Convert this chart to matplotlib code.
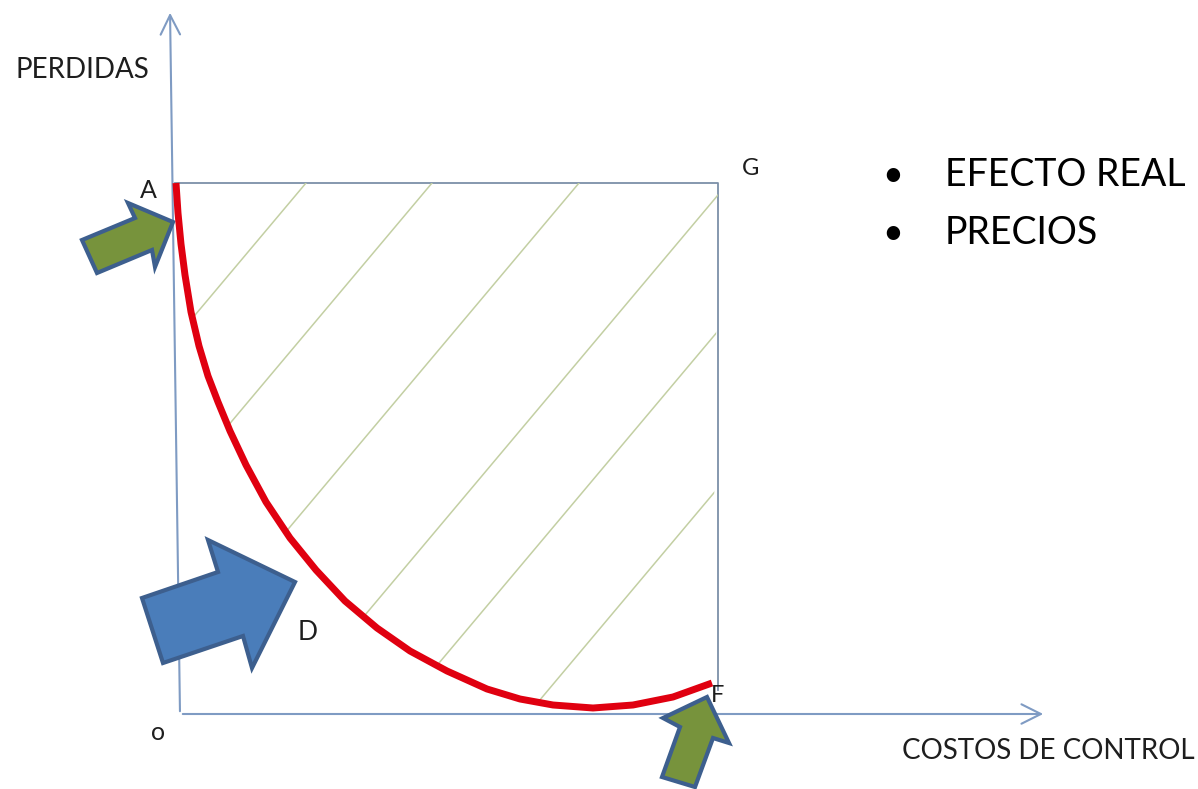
import numpy as np
import matplotlib.pyplot as plt
from matplotlib.patches import Polygon, FancyArrowPatch

# diagram drawn in pixel-like units (x right, y down)
curve_x = [176, 178, 181, 185, 191, 199, 208, 218, 230, 246, 266, 290, 316, 345, 377, 410,
           447, 487, 520, 553, 593, 633, 673, 712]
curve_y = [183, 213, 244, 275, 312, 346, 376, 402, 431, 465, 502, 538, 570, 601, 628, 651,
           671, 689, 699, 705, 708, 705, 697, 683]

box_left, box_top, box_right, box_bottom = 175, 183, 718, 690

hatch_top_x = [306, 432, 579]      # hatch lines that start on the top edge
hatch_right_y = [195, 331, 488]    # hatch lines that start on the right edge
hatch_slope = 1.19

arrow_a = [(82, 240), (135, 218), (128, 203), (173, 222), (155, 267), (152, 250), (97, 273)]
arrow_f = [(707, 697), (729, 743), (713, 738), (695, 787), (662, 777), (680, 727), (663, 718)]
arrow_d = [(142, 598), (218, 572), (208, 540), (295, 582), (252, 668), (243, 636), (163, 663)]

bullets = ['EFECTO REAL', 'PRECIOS']

plt.rcParams['font.family'] = ['Lato', 'DejaVu Sans']

fig = plt.figure(figsize=(11.98, 7.89), dpi=100)
ax = fig.add_axes([0, 0, 1, 1])
ax.set_xlim(0, 1198)
ax.set_ylim(789, 0)
ax.axis('off')

# axes with open arrow heads
axis_col = '#7F9BC3'
ax.add_patch(FancyArrowPatch((180, 714), (170, 10), arrowstyle='->,head_length=7,head_width=3.5',
                             color=axis_col, lw=1.5, mutation_scale=2))
ax.add_patch(FancyArrowPatch((180, 714), (1046, 714), arrowstyle='->,head_length=7,head_width=3.5',
                             color=axis_col, lw=1.5, mutation_scale=2))

# box A-G-F
box_col = '#7C90A8'
ax.plot([box_left, box_right, box_right], [box_top, box_top, box_bottom], color=box_col, lw=1.3)

# hatch region between curve and box
region = Polygon(list(zip(curve_x, curve_y)) + [(box_right, box_top)], closed=True,
                 facecolor='none', edgecolor='none')
ax.add_patch(region)
starts = [(x, box_top) for x in hatch_top_x] + [(box_right, y) for y in hatch_right_y]
for sx, sy in starts:
    ln, = ax.plot([sx, sx - 600], [sy, sy + 600 * hatch_slope], color='#C3CFA3', lw=1.1)
    ln.set_clip_path(region)

# red curve A -> F
ax.plot(curve_x, curve_y, color='#E00010', lw=5, solid_capstyle='butt', solid_joinstyle='round')

# block arrows
edge = '#3D5F8E'
ax.add_patch(Polygon(arrow_a, closed=True, facecolor='#77933C', edgecolor=edge, lw=3, joinstyle='miter'))
ax.add_patch(Polygon(arrow_f, closed=True, facecolor='#77933C', edgecolor=edge, lw=3, joinstyle='miter'))
ax.add_patch(Polygon(arrow_d, closed=True, facecolor='#4A7DBA', edgecolor=edge, lw=3, joinstyle='miter'))

# labels
txt = '#1E1E1E'
ax.text(15, 70, 'PERDIDAS', fontsize=20, color=txt, ha='left', va='center')
ax.text(1195, 751, 'COSTOS DE CONTROL', fontsize=20, color=txt, ha='right', va='center')
ax.text(148, 190, 'A', fontsize=18, color=txt, ha='center', va='center')
ax.text(751, 168, 'G', fontsize=17, color=txt, ha='center', va='center')
ax.text(308, 632, 'D', fontsize=19, color=txt, ha='center', va='center')
ax.text(718, 696, 'F', fontsize=17, color=txt, ha='center', va='center')
ax.text(158, 732, 'o', fontsize=18, color=txt, ha='center', va='center')

for i, label in enumerate(bullets):
    y = 175 + 58 * i
    ax.text(893, y, '•', fontsize=26, color='black', ha='center', va='center')
    ax.text(945, y, label, fontsize=27, color='black', ha='left', va='center')

fig.savefig('out.png', dpi=100)
